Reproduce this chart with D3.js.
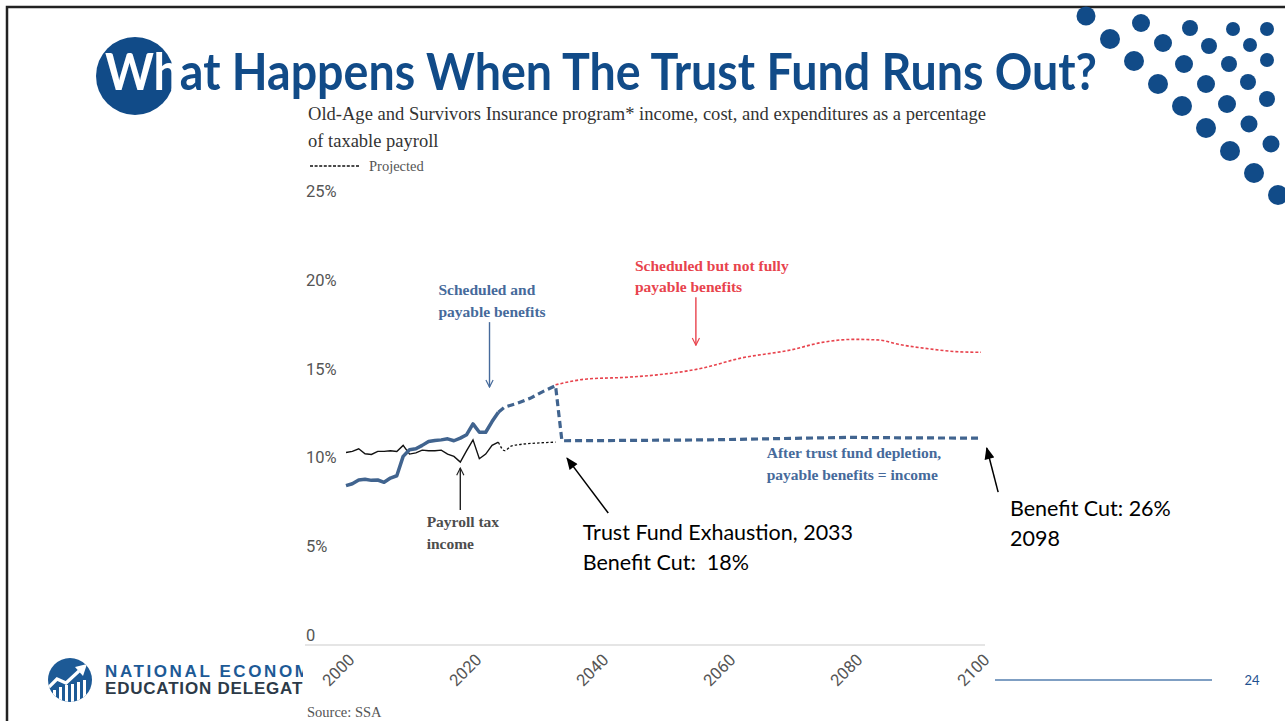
<!DOCTYPE html>
<html>
<head>
<meta charset="UTF-8" />
<title>What Happens When The Trust Fund Runs Out?</title>
<style>
  body { margin: 0; background: #fff; }
  svg { display: block; }
  .serif { font-family: "Liberation Serif", "DejaVu Serif", serif; }
  .sans { font-family: Lato, "Open Sans", sans-serif; }
  .tick-label { font-family: Roboto, Lato, sans-serif; font-size: 16.5px; fill: #555; }
</style>
<script src="https://cdn.jsdelivr.net/npm/d3@7"></script>
</head>
<body>
<div id="slide"></div>
<script>
// ---- data (percent of taxable payroll) ----
const histYears = [2000, 2001, 2002, 2003, 2004, 2005, 2006, 2007, 2008, 2009, 2010, 2011, 2012,
                   2013, 2014, 2015, 2016, 2017, 2018, 2019, 2020, 2021, 2022, 2023, 2024];
const costHist = [8.97, 9.08, 9.29, 9.33, 9.27, 9.29, 9.16, 9.4, 9.53, 10.62, 10.99, 11.05, 11.24,
                  11.46, 11.52, 11.55, 11.61, 11.5, 11.65, 11.84, 12.45, 11.98, 11.98, 12.58, 13.11];
const incomeHist = [10.84, 10.9, 11.05, 10.77, 10.73, 10.9, 10.9, 10.94, 10.9, 11.24, 10.75, 10.82, 10.97,
                    10.94, 10.94, 10.97, 10.75, 10.62, 10.3, 10.94, 11.55, 10.49, 10.75, 11.24, 11.42];

const projIncomeYears = [2024, 2025, 2026, 2027, 2030, 2033];
const projIncome = [11.42, 10.94, 11.2, 11.27, 11.37, 11.42];

const projCostYears = [2024, 2025, 2027, 2029, 2031, 2033];
const projCost = [13.11, 13.4, 13.61, 13.89, 14.27, 14.6];

const payableYears = [2034, 2045, 2057, 2068, 2079, 2090, 2100];
const payable = [11.5, 11.52, 11.55, 11.62, 11.69, 11.66, 11.65];

const scheduledYears = [2033, 2038, 2044, 2049, 2056, 2062, 2070, 2075, 2080, 2084, 2087, 2092, 2096, 2100];
const scheduled = [14.65, 14.98, 15.07, 15.21, 15.58, 16.14, 16.61, 17.04, 17.21, 17.17, 16.93, 16.67, 16.52, 16.48];

const yTicks = [0, 5, 10, 15, 20, 25];
const yTickLabels = ["0", "5%", "10%", "15%", "20%", "25%"];
const xTicks = [2000, 2020, 2040, 2060, 2080, 2100];

// ---- slide decoration ----
const blue = "#114b88";
const dotLayout = [
  [1086, 16, 9.5], [1141, 23, 9], [1190, 28, 8], [1233, 29, 7], [1267, 29, 7],
  [1110, 39, 10], [1163, 43, 9], [1209, 46, 8], [1250, 45, 7], [1267, 60, 7],
  [1134, 61, 10], [1184, 64, 9], [1229, 64, 8], [1158, 84, 10], [1206, 84, 9],
  [1248, 82, 8], [1267, 99, 8], [1182, 106, 10], [1227, 104, 9], [1206, 128, 10],
  [1249, 124, 8.5], [1230, 151, 10], [1271, 144, 8.5], [1254, 173, 10], [1278, 195, 10]
];

const svg = d3.select("#slide").append("svg")
  .attr("width", 1285)
  .attr("height", 721);

svg.append("rect").attr("width", 1285).attr("height", 721).attr("fill", "#fff");

// frame
svg.append("path")
  .attr("d", "M7,721 V7 H1285")
  .attr("fill", "none")
  .attr("stroke", "#222")
  .attr("stroke-width", 2.5);

svg.append("g").selectAll("circle")
  .data(dotLayout)
  .enter()
  .append("circle")
  .attr("cx", d => d[0])
  .attr("cy", d => d[1])
  .attr("r", d => d[2])
  .attr("fill", blue);

// title
svg.append("circle").attr("cx", 135).attr("cy", 76).attr("r", 39).attr("fill", blue);
let title = svg.append("text")
  .attr("class", "sans")
  .attr("x", 105)
  .attr("y", 90)
  .attr("font-size", 51)
  .attr("font-weight", 700)
  .attr("textLength", 992)
  .attr("lengthAdjust", "spacingAndGlyphs")
  .attr("fill", blue);
title.append("tspan").attr("fill", "#fff").text("Wh");
title.append("tspan").text("at Happens When The Trust Fund Runs Out?");

// logo
let logo = svg.append("g");
logo.append("clipPath").attr("id", "logoClip")
  .append("circle").attr("cx", 70).attr("cy", 680).attr("r", 22);
logo.append("circle").attr("cx", 70).attr("cy", 680).attr("r", 22).attr("fill", "#1d5a96");
let lg = logo.append("g").attr("clip-path", "url(#logoClip)");
[[53, 690], [59, 687], [65, 685], [71, 684], [77, 682], [83, 680]].forEach(b => {
  lg.append("rect").attr("x", b[0]).attr("y", b[1]).attr("width", 3).attr("height", 30).attr("fill", "#fff");
});
lg.append("path")
  .attr("d", "M46,690 L57,679 L66,683 L79,671")
  .attr("fill", "none").attr("stroke", "#fff").attr("stroke-width", 3.2);
lg.append("path").attr("d", "M75,667 L87,664 L83,676 Z").attr("fill", "#fff");

svg.append("text")
  .attr("x", 105).attr("y", 677)
  .attr("font-family", "'Liberation Sans', Arial, sans-serif")
  .attr("font-weight", 700)
  .attr("font-size", 17)
  .attr("letter-spacing", 2.6)
  .attr("fill", "#1d5a96")
  .text("NATIONAL ECONOMIC");
svg.append("text")
  .attr("x", 105).attr("y", 694)
  .attr("font-family", "'Liberation Sans', Arial, sans-serif")
  .attr("font-weight", 700)
  .attr("font-size", 17)
  .attr("letter-spacing", 0.8)
  .attr("fill", "#2c3a48")
  .text("EDUCATION DELEGATION");

// footer
svg.append("line")
  .attr("x1", 995).attr("x2", 1212).attr("y1", 680).attr("y2", 680)
  .attr("stroke", "#7f9fc3").attr("stroke-width", 2);
svg.append("text")
  .attr("class", "sans")
  .attr("x", 1252).attr("y", 685)
  .attr("text-anchor", "middle")
  .attr("font-size", 13)
  .attr("fill", "#1f5190")
  .text("24");

// ---- chart panel ----
let chart = svg.append("g");
chart.append("rect")
  .attr("x", 303).attr("y", 103)
  .attr("width", 690).attr("height", 618)
  .attr("fill", "#fff");

let x = d3.scaleLinear().domain([2000, 2100]).range([346, 981]);
let y = d3.scaleLinear().domain([0, 25]).range([645, 201]);

// header text
chart.append("text")
  .attr("class", "serif")
  .attr("x", 308).attr("y", 120)
  .attr("font-size", 18.5)
  .attr("fill", "#333")
  .attr("textLength", 678)
  .attr("lengthAdjust", "spacingAndGlyphs")
  .text("Old-Age and Survivors Insurance program* income, cost, and expenditures as a percentage");
chart.append("text")
  .attr("class", "serif")
  .attr("x", 308).attr("y", 147)
  .attr("font-size", 18.5)
  .attr("fill", "#333")
  .text("of taxable payroll");
chart.append("line")
  .attr("x1", 310).attr("x2", 360).attr("y1", 166).attr("y2", 166)
  .attr("stroke", "#111").attr("stroke-width", 1.5)
  .attr("stroke-dasharray", "3,1.6");
chart.append("text")
  .attr("class", "serif")
  .attr("x", 369).attr("y", 171)
  .attr("font-size", 14.5)
  .attr("fill", "#555")
  .text("Projected");

// y labels
chart.append("g").selectAll("text")
  .data(yTicks)
  .enter()
  .append("text")
  .attr("class", "tick-label")
  .attr("x", 306)
  .attr("y", d => y(d) - 4)
  .text((d, i) => yTickLabels[i]);

// baseline
chart.append("line")
  .attr("x1", 305).attr("x2", 985)
  .attr("y1", y(0)).attr("y2", y(0))
  .attr("stroke", "#ddd").attr("stroke-width", 1.5);

// x axis
let xAxis = chart.append("g")
  .attr("transform", "translate(0," + y(0) + ")")
  .call(d3.axisBottom(x).tickValues(xTicks).tickSize(0).tickFormat(d3.format("d")));
xAxis.select(".domain").remove();
xAxis.attr("font-family", null).attr("font-size", null);
xAxis.selectAll("text")
  .attr("class", "tick-label")
  .attr("y", null)
  .attr("dy", null)
  .attr("text-anchor", "end")
  .attr("transform", "translate(9,16) rotate(-45)");

// lines
let line = d3.line().x(d => x(d[0])).y(d => y(d[1]));
let smooth = d3.line().x(d => x(d[0])).y(d => y(d[1])).curve(d3.curveMonotoneX);

chart.append("path")
  .datum(d3.zip(scheduledYears, scheduled))
  .attr("d", smooth)
  .attr("fill", "none")
  .attr("stroke", "#e8434d")
  .attr("stroke-width", 1.6)
  .attr("stroke-dasharray", "3,2");

chart.append("path")
  .datum(d3.zip(projIncomeYears, projIncome))
  .attr("d", smooth)
  .attr("fill", "none")
  .attr("stroke", "#111")
  .attr("stroke-width", 1.3)
  .attr("stroke-dasharray", "2.5,2");

chart.append("path")
  .datum(d3.zip(projCostYears, projCost).concat(d3.zip(payableYears, payable)))
  .attr("d", line)
  .attr("fill", "none")
  .attr("stroke", "#41648f")
  .attr("stroke-width", 3.2)
  .attr("stroke-dasharray", "7,4");

chart.append("path")
  .datum(d3.zip(histYears, incomeHist))
  .attr("d", line)
  .attr("fill", "none")
  .attr("stroke", "#111")
  .attr("stroke-width", 1.4);

chart.append("path")
  .datum(d3.zip(histYears, costHist))
  .attr("d", line)
  .attr("fill", "none")
  .attr("stroke", "#41648f")
  .attr("stroke-width", 3.5)
  .attr("stroke-linejoin", "round");

// ---- annotations ----
let defs = svg.append("defs");
function openHead(id, color) {
  defs.append("marker")
    .attr("id", id)
    .attr("viewBox", "0 0 10 10")
    .attr("refX", 9).attr("refY", 5)
    .attr("markerWidth", 9).attr("markerHeight", 9)
    .attr("markerUnits", "userSpaceOnUse")
    .attr("orient", "auto")
    .append("path")
    .attr("d", "M1,1 L9,5 L1,9")
    .attr("fill", "none")
    .attr("stroke", color)
    .attr("stroke-width", 1.3);
}
openHead("headBlue", "#466a9b");
openHead("headRed", "#e8434d");
openHead("headBlack", "#222");
defs.append("marker")
  .attr("id", "headFill")
  .attr("viewBox", "0 0 12 10")
  .attr("refX", 11).attr("refY", 5)
  .attr("markerWidth", 13).attr("markerHeight", 10)
  .attr("markerUnits", "userSpaceOnUse")
  .attr("orient", "auto")
  .append("path")
  .attr("d", "M0,0 L12,5 L0,10 Z")
  .attr("fill", "#000");

const arrows = [
  { from: [2022.6, 18.18], to: [2022.6, 14.52], color: "#466a9b", head: "headBlue", w: 1.4 },
  { from: [2055.1, 19.58], to: [2055.1, 16.88], color: "#e8434d", head: "headRed", w: 1.4 },
  { from: [2018.0, 7.6], to: [2018.0, 9.96], color: "#222", head: "headBlack", w: 1.4 },
  { from: [2041.3, 7.43], to: [2034.8, 10.52], color: "#000", head: "headFill", w: 1.5 },
  { from: [2102.7, 8.61], to: [2100.9, 11.09], color: "#000", head: "headFill", w: 1.5 }
];
chart.append("g").selectAll("line")
  .data(arrows)
  .enter()
  .append("line")
  .attr("x1", d => x(d.from[0])).attr("y1", d => y(d.from[1]))
  .attr("x2", d => x(d.to[0])).attr("y2", d => y(d.to[1]))
  .attr("stroke", d => d.color)
  .attr("stroke-width", d => d.w)
  .attr("marker-end", d => "url(#" + d.head + ")");

const notes = [
  { at: [2014.55, 19.7], lines: ["Scheduled and", "payable benefits"], color: "#466a9b", serif: true },
  { at: [2045.5, 21.08], lines: ["Scheduled but not fully", "payable benefits"], color: "#e8434d", serif: true },
  { at: [2012.7, 6.63], lines: ["Payroll tax", "income"], color: "#4d4d4d", serif: true },
  { at: [2066.25, 10.51], lines: ["After trust fund depletion,", "payable benefits = income"], color: "#466a9b", serif: true },
  { at: [2037.28, 5.91], lines: ["Trust Fund Exhaustion, 2033", "Benefit Cut:  18%"], color: "#000", serif: false },
  { at: [2104.57, 7.26], lines: ["Benefit Cut: 26%", "2098"], color: "#000", serif: false }
];
notes.forEach(n => {
  let t = chart.append("text")
    .attr("class", n.serif ? "serif" : "sans")
    .attr("x", x(n.at[0]))
    .attr("y", y(n.at[1]))
    .attr("fill", n.color)
    .attr("font-size", n.serif ? 15.5 : 21.5)
    .attr("font-weight", n.serif ? 700 : 400)
    .style("white-space", "pre");
  n.lines.forEach((s, i) => {
    t.append("tspan")
      .attr("x", x(n.at[0]))
      .attr("dy", i === 0 ? 0 : (n.serif ? 21.7 : 30))
      .text(s);
  });
});

chart.append("text")
  .attr("class", "serif")
  .attr("x", 307).attr("y", 717)
  .attr("font-size", 14.5)
  .attr("fill", "#555")
  .text("Source: SSA");
</script>
</body>
</html>
